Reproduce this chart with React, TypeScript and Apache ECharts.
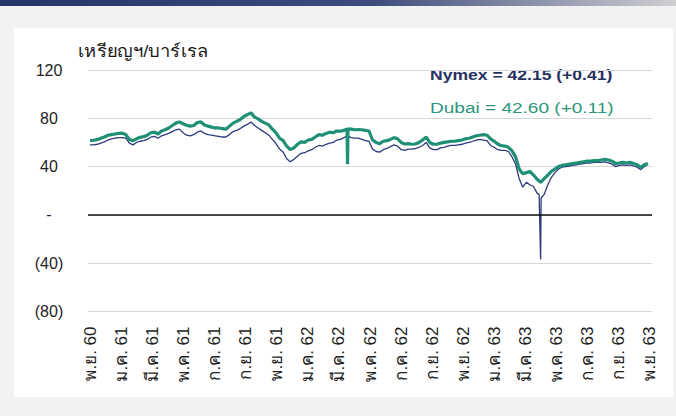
import React, { useEffect, useRef } from "react";
import * as echarts from "echarts";

// Weekly observations starting at this date (one value per 7 days)
const startDate = "2017-11-20";
const endDate = "2020-11-20";

const dubai = [
  61.5, 61.8, 62.3, 63.5, 64.5, 66, 66.5, 67, 67.5, 67.7,
  66.5, 62.5, 61.5, 63, 64.3, 64.8, 66, 68, 68.5, 67,
  69.5, 70.5, 72, 74, 76, 77, 75.5, 74.3, 73.5, 74,
  76.5, 77, 74.5, 73.5, 72.7, 72, 72, 71.5, 71, 73.5,
  76, 77.5, 79, 81.5, 83, 84.5, 81, 79.5, 77.5, 76,
  74.5, 71, 68, 63.5, 61.5, 57, 54, 55.5, 58.5, 60.5,
  60, 62, 62.5, 64.5, 66.5, 66, 67.5, 68.5, 68, 69.5,
  69.3, 70, 42, 71, 70.5, 70.7, 70.5, 70, 69.5, 62,
  60, 59, 61, 61.5, 62.5, 64, 63, 60, 58.7, 59,
  58.5, 58.7, 60, 62, 64.5, 60, 58.5, 58.5, 59.5, 60,
  60.5, 61, 61, 61.5, 62, 63, 63.5, 64.5, 65.5, 66,
  66.5, 66, 63, 61, 58.7, 57.3, 57, 56, 53, 48,
  38, 34, 35, 36, 33, 29.5, 27, 30, 33, 36,
  38, 40, 41, 41.5, 42, 42.5, 43, 43.5, 44, 44.5,
  44.5, 45, 45, 45.5, 46, 45.5, 44.5, 42.5, 43, 43.5,
  43, 43.5, 42.5, 41.5, 39.5, 41.5, 42.6,
];

const nymex = [
  58, 58, 58.5, 59.5, 60.5, 62, 63, 63.5, 64, 64,
  63.5, 59.5, 58, 60, 61, 61.5, 62.5, 64.5, 65, 63.5,
  65.5, 66.5, 67.5, 69, 70.5, 71, 68, 66, 65.5, 66.5,
  68.5, 69.5, 67.5, 66.5, 66, 65.5, 65, 64.5, 64.5, 66.5,
  69, 70, 71.5, 73.5, 75, 77, 74, 72, 70, 68,
  66, 62.5, 59, 54.5, 52, 46.5, 44, 46, 48.5, 51,
  51.5, 53, 54, 56, 57.5, 57, 58.5, 59.5, 60, 62,
  62.5, 64, 65.5, 64, 63.5, 63.5, 62.5, 61.5, 61, 54.5,
  52.5, 52, 54, 55, 56.5, 58, 57, 54, 53.5, 54.5,
  54.5, 55, 56, 57.5, 60, 55.5, 54, 54, 55.5, 56,
  57, 57.5, 57.5, 58, 58.5, 59.5, 60, 61, 62, 62.5,
  62, 61.5, 57.5, 56, 54, 53.5, 53.5, 52.5, 48, 42,
  30, 23, 27, 25, 23.5, 18, -37, 17, 25, 31,
  35, 38, 39.5, 40, 40.5, 41, 41.5, 42, 42.5, 43,
  43, 43.5, 43.5, 43.5, 44, 43, 42, 40, 41, 41.5,
  41, 41.5, 40.5, 39.5, 37.5, 40, 42.15,
];

// Extra daily observations around the one-day spikes
const dubaiExtraDates = ["2019-04-07", "2019-04-09"];
const dubaiExtraValues = [71.3, 71.3];
const nymexExtraDates = ["2020-04-17", "2020-04-21"];
const nymexExtraValues = [17, 14];

const tickLabels = [
  "พ.ย. 60", "ม.ค. 61", "มี.ค. 61", "พ.ค. 61", "ก.ค. 61", "ก.ย. 61", "พ.ย. 61",
  "ม.ค. 62", "มี.ค. 62", "พ.ค. 62", "ก.ค. 62", "ก.ย. 62", "พ.ย. 62",
  "ม.ค. 63", "มี.ค. 63", "พ.ค. 63", "ก.ค. 63", "ก.ย. 63", "พ.ย. 63",
];

const yMin = -80;
const yMax = 120;
const yStep = 40;

const titleText = "เหรียญฯ/บาร์เรล";
const nymexLabel = "Nymex = 42.15 (+0.41)";
const dubaiLabel = "Dubai = 42.60 (+0.11)";

const DAY = 86400000;
const t0 = Date.parse(startDate);
const dayOf = (d: string) => Math.round((Date.parse(d) - t0) / DAY);

function buildSeries(weekly: number[], extraDates: string[], extraValues: number[]) {
  const pts: [number, number][] = weekly.map((v, i) => [i * 7, v]);
  extraDates.forEach((d, i) => pts.push([dayOf(d), extraValues[i]]));
  pts.sort((a, b) => a[0] - b[0]);
  return pts;
}

export default function App() {
  const ref = useRef<HTMLDivElement>(null);
  useEffect(() => {
    if (!ref.current) return;
    const chart = echarts.init(ref.current, null, { renderer: "svg" });
    const totalDays = dayOf(endDate);
    const step = totalDays / (tickLabels.length - 1);
    const labelValues = tickLabels.map((_, i) => i * step);
    const font = '"Liberation Sans", Arial, "Noto Sans", sans-serif';

    chart.setOption({
      animation: false,
      backgroundColor: "#f2f2f2",
      graphic: [
        {
          type: "rect",
          z: -10,
          shape: { x: 0, y: 0, width: 676, height: 6 },
          style: {
            fill: new echarts.graphic.LinearGradient(0, 0, 1, 0, [
              { offset: 0, color: "#26346a" },
              { offset: 0.55, color: "#3e4b7c" },
              { offset: 1, color: "#cfcfd2" },
            ]),
          },
        },
        {
          type: "rect",
          z: -10,
          shape: { x: 14, y: 28, width: 659, height: 369 },
          style: { fill: "#ffffff" },
        },
        {
          type: "text",
          x: 78,
          y: 43,
          scaleX: 1.08,
          style: {
            text: titleText,
            fill: "#1a1a1a",
            fontSize: 17,
            fontFamily: font,
            verticalAlign: "top",
          },
        },
        {
          type: "text",
          x: 430,
          y: 67,
          scaleX: 1.17,
          style: {
            text: nymexLabel,
            fill: "#27315f",
            fontSize: 15,
            fontWeight: "bold",
            fontFamily: font,
            verticalAlign: "top",
          },
        },
        {
          type: "text",
          x: 430,
          y: 100,
          scaleX: 1.27,
          style: {
            text: dubaiLabel,
            fill: "#2b967c",
            fontSize: 15,
            fontFamily: font,
            verticalAlign: "top",
          },
        },
      ],
      grid: { left: 88, right: 24, top: 70, bottom: 104.5, containLabel: false },
      xAxis: {
        type: "value",
        min: -4,
        max: totalDays + 4,
        axisLine: { show: false },
        axisTick: { show: false },
        splitLine: { show: false },
        axisLabel: {
          customValues: labelValues,
          rotate: 90,
          margin: 15,
          fontSize: 17,
          color: "#1e1e1e",
          fontFamily: font,
          formatter: (v: number) => tickLabels[Math.round(v / step)] ?? "",
        },
      },
      yAxis: {
        type: "value",
        min: yMin,
        max: yMax,
        interval: yStep,
        axisLine: { show: false },
        axisTick: { show: false },
        splitLine: { lineStyle: { color: "#d6d6d6", width: 1 } },
        axisLabel: {
          align: "center",
          margin: 39,
          fontSize: 16,
          color: "#1e1e1e",
          fontFamily: font,
          formatter: (v: number) => (v === 0 ? "-" : v < 0 ? `(${-v})` : `${v}`),
        },
      },
      series: [
        {
          name: "Nymex",
          type: "line",
          data: buildSeries(nymex, nymexExtraDates, nymexExtraValues),
          symbol: "none",
          lineStyle: { color: "#2c3a7c", width: 1.3 },
          z: 3,
          markLine: {
            silent: true,
            symbol: "none",
            label: { show: false },
            lineStyle: { color: "#111", width: 1.6, type: "solid" },
            data: [{ yAxis: 0 }],
          },
        },
        {
          name: "Dubai",
          type: "line",
          data: buildSeries(dubai, dubaiExtraDates, dubaiExtraValues),
          symbol: "none",
          lineStyle: { color: "#1f8f75", width: 3.2 },
          z: 4,
        },
      ],
    });
    return () => chart.dispose();
  }, []);
  return (
    <div
      ref={ref}
      style={{ position: "fixed", left: 0, top: 0, width: 676, height: 416 }}
    />
  );
}
